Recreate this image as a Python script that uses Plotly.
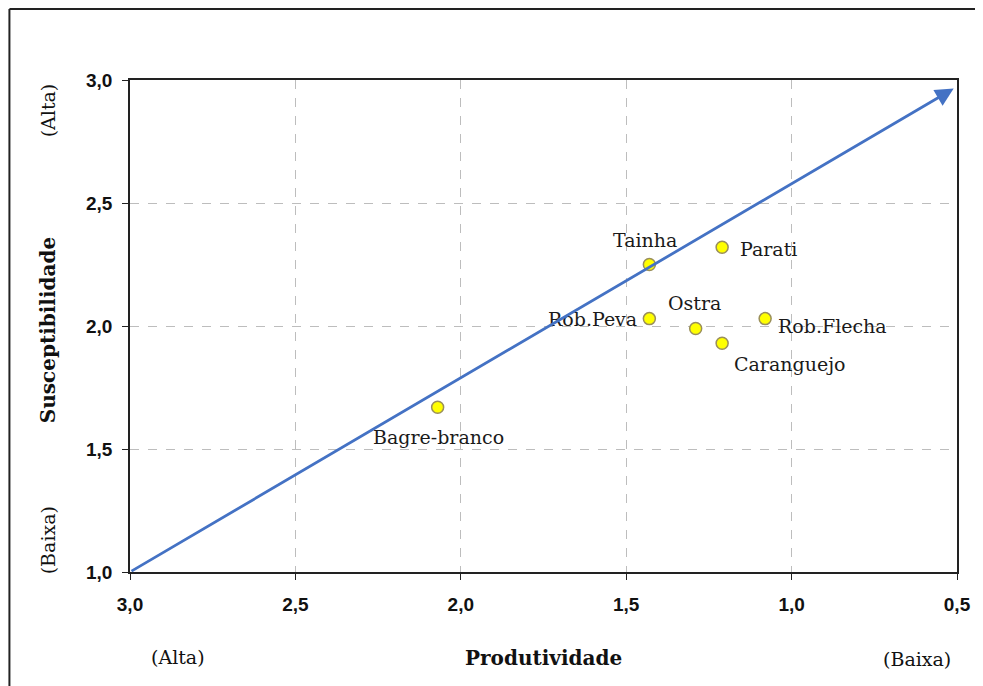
import plotly.graph_objects as go

species = ["Tainha", "Parati", "Rob.Peva", "Ostra", "Rob.Flecha", "Caranguejo", "Bagre-branco"]
produtividade = [1.43, 1.21, 1.43, 1.29, 1.08, 1.21, 2.07]
susceptibilidade = [2.25, 2.32, 2.03, 1.99, 2.03, 1.93, 1.67]

x_ticks = [3.0, 2.5, 2.0, 1.5, 1.0, 0.5]
y_ticks = [1.0, 1.5, 2.0, 2.5, 3.0]

arrow_start = (3.0, 1.0)
arrow_end = (0.51, 2.965)

# label placement (xanchor, xshift, yshift) in pixels
label_pos = {
    "Tainha": ("center", -4, 25),
    "Parati": ("left", 16, -2),
    "Rob.Peva": ("right", -10, 0),
    "Ostra": ("center", -1, 25),
    "Rob.Flecha": ("left", 11, -7),
    "Caranguejo": ("left", 10, -21),
    "Bagre-branco": ("center", 1, -30),
}

serif = "DejaVu Serif"
sans = "Liberation Sans"

fig = go.Figure()
fig.add_trace(go.Scatter(
    x=produtividade, y=susceptibilidade, mode="markers",
    marker=dict(size=12, color="#FFFF00", line=dict(color="#9A8F5A", width=1.5)),
    hoverinfo="text", text=species, showlegend=False,
))

annotations = []
for name, xv, yv in zip(species, produtividade, susceptibilidade):
    anc, dx, dy = label_pos[name]
    annotations.append(dict(
        x=xv, y=yv, xref="x", yref="y", text=name, showarrow=False,
        xanchor=anc, yanchor="middle", xshift=dx, yshift=dy,
        font=dict(family=serif, size=19, color="#1a1a1a"),
    ))

# trend arrow
annotations.append(dict(
    x=arrow_end[0], y=arrow_end[1], ax=arrow_start[0], ay=arrow_start[1],
    xref="x", yref="y", axref="x", ayref="y", text="", showarrow=True,
    arrowhead=2, arrowsize=1.3, arrowwidth=2.8, arrowcolor="#4472C4", standoff=0,
))


def paper_text(x, y, text, size, angle=0):
    return dict(x=x, y=y, xref="paper", yref="paper", text=text, showarrow=False,
                xanchor="center", yanchor="middle", textangle=angle,
                font=dict(family=serif, size=size, color="#111"))


annotations += [
    paper_text(0.50, -0.175, "<b>Produtividade</b>", 20),
    paper_text(0.058, -0.173, "(Alta)", 19),
    paper_text(0.952, -0.177, "(Baixa)", 19),
    paper_text(-0.0988, 0.492, "<b>Susceptibilidade</b>", 20, -90),
    paper_text(-0.0988, 0.939, "(Alta)", 19, -90),
    paper_text(-0.0988, 0.065, "(Baixa)", 19, -90),
]

frame = dict(color="#222", width=2)
fig.update_layout(
    width=975, height=678,
    margin=dict(l=122, r=23, t=72, b=114),
    paper_bgcolor="white", plot_bgcolor="white",
    separators=",.",
    annotations=annotations,
    shapes=[
        dict(type="line", xref="paper", yref="paper", x0=-0.1458, x1=1.2,
             y0=1.1443, y1=1.1443, line=frame, layer="below"),
        dict(type="line", xref="paper", yref="paper", x0=-0.1458, x1=-0.1458,
             y0=-0.4, y1=1.1443, line=frame, layer="below"),
    ],
    xaxis=dict(
        range=[3.0, 0.5], tickvals=x_ticks, tickformat=".1f",
        showgrid=True, gridcolor="#BDBDBD", griddash="dash", gridwidth=1,
        showline=True, linecolor="#222", linewidth=1.5, mirror=True,
        ticks="outside", ticklen=6, tickcolor="#222", ticklabelstandoff=8,
        tickfont=dict(family=sans, size=19, color="#111", weight="bold"),
        zeroline=False,
    ),
    yaxis=dict(
        range=[1.0, 3.0], tickvals=y_ticks, tickformat=".1f",
        showgrid=True, gridcolor="#BDBDBD", griddash="dash", gridwidth=1,
        showline=True, linecolor="#222", linewidth=1.5, mirror=True,
        ticks="outside", ticklen=6, tickcolor="#222", ticklabelstandoff=6,
        tickfont=dict(family=sans, size=19, color="#111", weight="bold"),
        zeroline=False,
    ),
)

fig.write_html("out.html")
